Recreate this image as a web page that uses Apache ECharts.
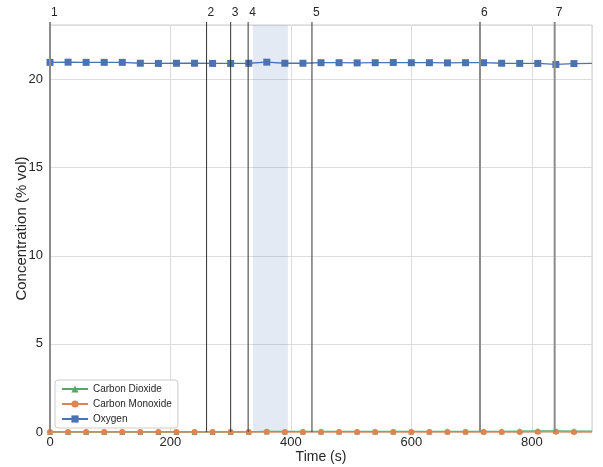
<!DOCTYPE html>
<html><head><meta charset="utf-8">
<script src="https://cdn.jsdelivr.net/npm/echarts@6/dist/echarts.min.js"></script>
<style>html,body{margin:0;padding:0;background:#fff}#c{width:603px;height:467px}</style>
</head><body><div id="c"></div>
<script>
const times = [0,30,60,90,120,150,180,210,240,270,300,330,360,390,420,450,480,510,540,570,600,630,660,690,720,750,780,810,840,870,900];
const oxygen = [20.98,20.99,20.98,20.98,20.98,20.93,20.92,20.93,20.93,20.92,20.92,20.93,20.99,20.93,20.93,20.96,20.96,20.95,20.96,20.97,20.96,20.96,20.95,20.96,20.96,20.93,20.92,20.92,20.86,20.91,20.92];
const carbonMonoxide = [0,0,0,0,0,0,0,0,0,0,0,0,0.01,0,0,0,0,0,0,0,0,0,0,0,0,0,0,0.01,0.01,0,0];
const carbonDioxide = [0,0,0,0,0,0,0,0,0,0,0,0.01,0.03,0.03,0.03,0.03,0.03,0.03,0.03,0.03,0.03,0.03,0.04,0.04,0.04,0.04,0.05,0.06,0.06,0.05,0.05];
const eventTimes = [0,260,300,329,435,714,838];
const eventLabels = ['1','2','3','4','5','6','7'];
const eventMajor = [true,false,false,false,false,true,true];
const shadeRange = [337,395];
const xMax = 900, yMax = 23.1;

const font = 'Liberation Sans, Arial, sans-serif';
const pair = arr => times.map((t,i)=>[t,arr[i]]);

const chart = echarts.init(document.getElementById('c'));
function mk(name, data, color, symbol, size){
  return {
    name, type:'line', data: pair(data), symbol,
    symbolSize: (v)=> v[0] > 880 ? 0 : size,
    showAllSymbol:true,
    lineStyle:{color, width:1.3}, itemStyle:{color},
    emphasis:{disabled:true}, animation:false, clip:true
  };
}
const series = [
  mk('Carbon Dioxide', carbonDioxide, '#55a868', 'triangle', 6),
  mk('Carbon Monoxide', carbonMonoxide, '#dd8452', 'circle', 6),
  mk('Oxygen', oxygen, '#4c72b0', 'rect', 7)
];
series[2].markArea = {silent:true, itemStyle:{color:'rgba(76,114,176,0.15)'}, data:[[{xAxis:shadeRange[0]},{xAxis:shadeRange[1]}]]};

chart.setOption({
  animation:false,
  textStyle:{fontFamily:font},
  grid:{left:50, right:11, top:25, bottom:35, containLabel:false, outerBoundsMode:'none', show:true, borderColor:'#cccccc', borderWidth:1, backgroundColor:'#fff'},
  xAxis:{type:'value', min:0, max:xMax, interval:200,
    name:'Time (s)', nameLocation:'middle', nameGap:18, nameMoveOverlap:false, nameTextStyle:{fontSize:14, color:'#262626', fontFamily:font},
    axisLine:{show:false}, axisTick:{show:false},
    axisLabel:{fontSize:13, color:'#262626', margin:4, showMaxLabel:false, fontFamily:font},
    splitLine:{lineStyle:{color:'#dddddd', width:1}}},
  yAxis:{type:'value', min:0, max:yMax, interval:5,
    name:'Concentration (% vol)', nameLocation:'middle', nameGap:21, nameMoveOverlap:false, nameTextStyle:{fontSize:15, color:'#262626', fontFamily:font},
    axisLine:{show:false}, axisTick:{show:false},
    axisLabel:{fontSize:13, color:'#262626', margin:7, showMaxLabel:false, fontFamily:font},
    splitLine:{lineStyle:{color:'#dddddd', width:1}}},
  legend:{left:55, bottom:39, orient:'vertical', itemGap:5, itemWidth:26, itemHeight:9,
    backgroundColor:'rgba(255,255,255,0.85)', borderColor:'#cccccc', borderWidth:1, borderRadius:3,
    padding:[4,6,4,6], textStyle:{fontSize:10, color:'#262626', fontFamily:font},
    data:['Carbon Dioxide','Carbon Monoxide','Oxygen']},
  series
});

const yTop = chart.convertToPixel({yAxisIndex:0}, yMax);
const yBot = chart.convertToPixel({yAxisIndex:0}, 0);
const elems = [];
eventTimes.forEach((t,i)=>{
  const x = chart.convertToPixel({xAxisIndex:0}, t);
  elems.push({type:'line', z:50, silent:true, shape:{x1:x, y1:yTop-3, x2:x, y2:yBot},
    style:{stroke: eventMajor[i] ? '#8c8c8c' : '#333333', lineWidth: eventMajor[i] ? 2 : 1}});
  elems.push({type:'text', z:50, silent:true, x:x+1, y:yTop-12,
    style:{text:eventLabels[i], fontSize:12, fill:'#262626', fontFamily:font, textVerticalAlign:'middle'}});
});
chart.setOption({graphic:elems});
</script></body></html>
